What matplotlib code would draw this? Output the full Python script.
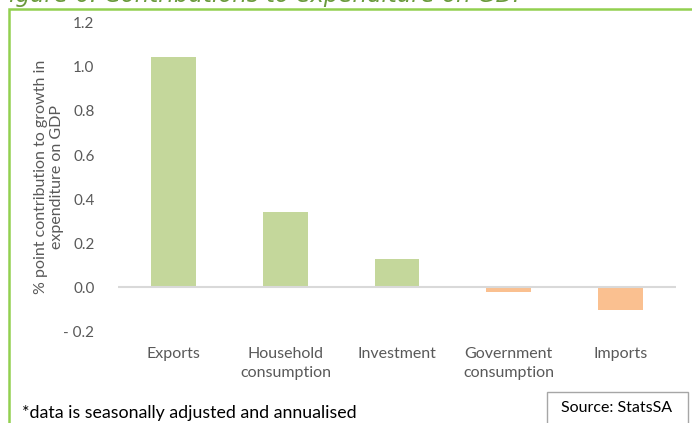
import numpy as np
import matplotlib.pyplot as plt
from matplotlib.patches import Rectangle

# contribucion de cada componente del gasto al crecimiento del PIB (puntos %)
categorias = ['Exports', 'Household\nconsumption', 'Investment',
              'Government\nconsumption', 'Imports']
valores = [1.045, 0.34, 0.127, -0.023, -0.105]
ticks_y = [-0.2, 0.0, 0.2, 0.4, 0.6, 0.8, 1.0, 1.2]
etiquetas_y = ['- 0.2', '0.0', '0.2', '0.4', '0.6', '0.8', '1.0', '1.2']

verde = '#c4d79b'
naranja = '#fac090'
gris_txt = '#595959'
fuente = ['Lato', 'DejaVu Sans']

plt.rcParams['font.family'] = fuente

W, H = 692, 423
f = plt.figure(figsize=(W/100, H/100), dpi=100)
ax = f.add_axes([118/W, 1 - 331/H, 558/W, 308/H])

x = np.arange(len(categorias))
colores = [verde if v >= 0 else naranja for v in valores]
ax.bar(x, valores, width=0.40, color=colores, zorder=2)

ax.set_xlim(-0.5, len(categorias) - 0.5)
ax.set_ylim(-0.2, 1.2)
ax.axhline(0, color='#d9d9d9', lw=1.5, zorder=3)

for s in ax.spines.values():
    s.set_visible(False)

ax.set_yticks(ticks_y)
ax.set_yticklabels(etiquetas_y, fontsize=11, color=gris_txt)
ax.set_xticks([])
ax.tick_params(axis='y', length=0, pad=17)

# etiquetas de categoria debajo del eje
for i, c in enumerate(categorias):
    ax.text(i, -0.272, c, ha='center', va='top', fontsize=11.5,
            color=gris_txt, linespacing=1.5)

# titulo del eje y, puesto a mano
f.text(49/W, 1 - 177/H, '% point contribution to growth in\nexpenditure on GDP',
       fontsize=11.5, color=gris_txt, linespacing=1.1, rotation=90,
       ha='center', va='center', multialignment='center')

# marco verde del recuadro
f.add_artist(Rectangle((9/W, -0.2), 1.2, 1 - 9.5/H + 0.2,
                       transform=f.transFigure, fill=False,
                       edgecolor='#92d050', lw=1.8, clip_on=False))

# titulo cortado arriba
f.text(-4/W, 1 - 2/H, 'Figure 6: Contributions to expenditure on GDP',
       fontsize=16.5, style='italic', color='#6a9a3c', va='baseline',
       family='DejaVu Sans')

f.text(22/W, 1 - 418/H, '*data is seasonally adjusted and annualised',
       fontsize=12.8, color='black', va='baseline')

f.add_artist(Rectangle((547/W, -0.1), 141/W, 0.1 + 1 - 392/H,
                       transform=f.transFigure, fill=False,
                       edgecolor='#a6a6a6', lw=1.0, clip_on=False))
f.text(617/W, 1 - 408/H, 'Source: StatsSA', fontsize=11.5,
       ha='center', va='center', color='black')

f.savefig('out.png', dpi=100)
plt.close('all')
